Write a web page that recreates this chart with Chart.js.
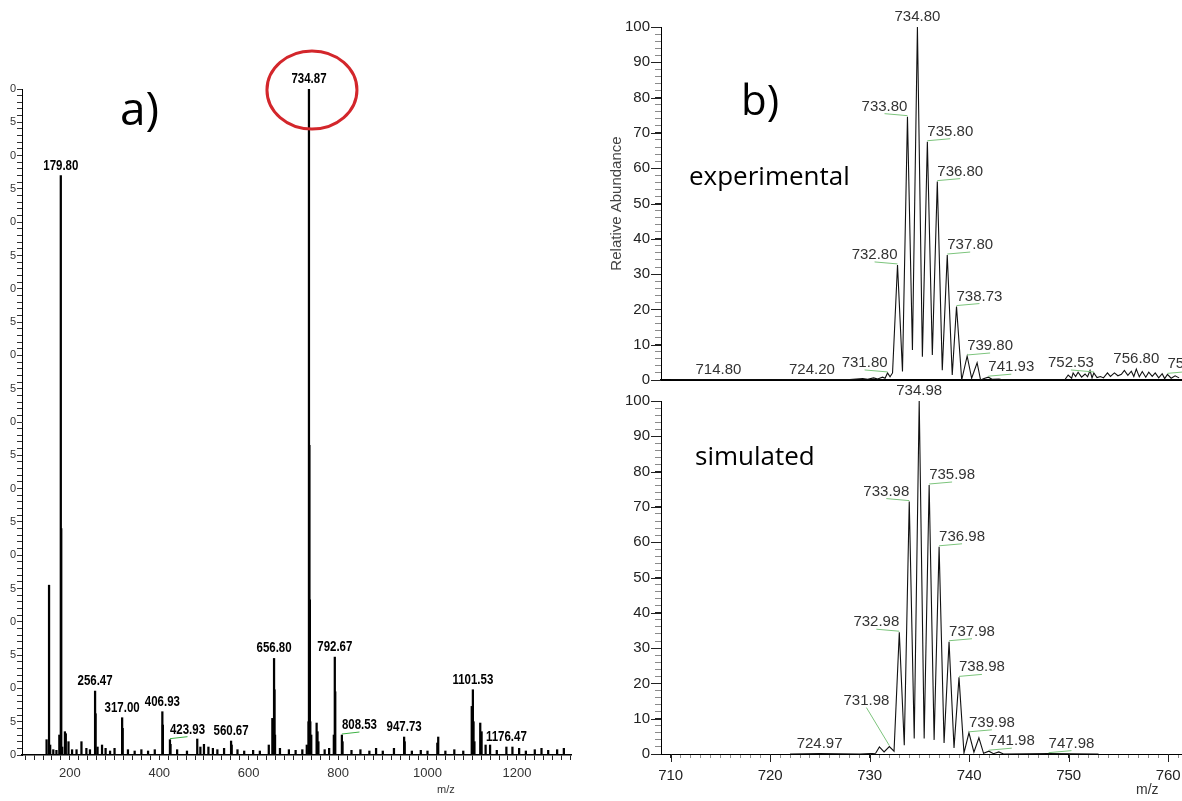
<!DOCTYPE html>
<html>
<head>
<meta charset="utf-8">
<script src="https://cdn.jsdelivr.net/npm/chart.js@4.4.1/dist/chart.umd.min.js"></script>
<style>
html, body { margin: 0; padding: 0; background: #fff; width: 1182px; height: 801px; overflow: hidden; position: relative; }
.box { position: absolute; }
#wrapA { left: 10px; top: 0; width: 580px; height: 801px; overflow: hidden; }
#chartA { position: absolute; left: -30px; top: 0; }
#chartB { left: 590px; top: 0; }
#chartC { left: 590px; top: 385px; }
.note { position: absolute; font-family: "Open Sans", sans-serif; color: #000; line-height: 1; white-space: nowrap; }
.axt { position: absolute; font-family: "Liberation Sans", Arial, sans-serif; color: #333; line-height: 1; white-space: nowrap; }
</style>
</head>
<body>
<div id="wrapA" class="box"><canvas id="chartA" width="610" height="801"></canvas></div>
<canvas id="chartB" class="box" width="640" height="400"></canvas>
<canvas id="chartC" class="box" width="640" height="416"></canvas>

<div class="note" style="left:120px;top:84px;font-size:46px">a)</div>
<div class="note" style="left:741px;top:78px;font-size:42px">b)</div>
<div class="note" style="left:689px;top:162px;font-size:26px">experimental</div>
<div class="note" style="left:695px;top:442px;font-size:26px">simulated</div>
<div class="axt" style="left:437px;top:784px;font-size:11px">m/z</div>
<div class="axt" style="left:1136px;top:782px;font-size:14px">m/z</div>

<script>
// a) полный спектр: m/z и интенсивность
const mzA = [
    148, 153.5, 156, 163, 170, 176.5, 179.8, 180.8, 183, 189,
    191, 197, 205, 215, 226, 237, 245, 256.47, 257.6, 262,
    272, 280, 290, 300, 317.0, 318.2, 330, 345, 360, 375,
    390, 406.93, 408.1, 423.93, 425.2, 440, 462, 485, 492, 500,
    510, 520, 530, 545, 560.67, 562, 575, 590, 610, 625,
    645, 653, 656.8, 657.8, 659, 670, 690, 705, 720, 730,
    733.87, 734.87, 735.87, 736.87, 737.87, 740, 752, 754, 756, 770,
    780, 790.5, 792.67, 793.67, 808.53, 810, 830, 850, 870, 885,
    900, 925, 947.73, 949, 965, 985, 1000, 1022, 1024, 1040,
    1060, 1080, 1099, 1101.53, 1103, 1105, 1118, 1121, 1130, 1140,
    1155, 1176.47, 1190, 1205, 1220, 1240, 1255, 1270, 1290, 1305
];
const intA = [
    2.3, 25.5, 1.5, 0.8, 0.7, 3.0, 87, 34, 1.2, 3.5,
    3.2, 2.0, 0.8, 0.8, 2.0, 1.0, 0.8, 9.6, 6.2, 1.2,
    1.5, 1.0, 0.6, 1.0, 5.6, 4.0, 0.8, 0.6, 0.8, 0.6,
    0.8, 6.5, 4.5, 2.3, 1.6, 0.8, 0.6, 2.4, 1.2, 1.6,
    1.2, 1.0, 0.8, 1.0, 2.1, 1.5, 0.8, 0.6, 0.7, 0.6,
    1.5, 5.5, 14.5, 9.8, 3.0, 1.0, 0.8, 0.7, 0.8, 1.5,
    5.0, 100, 46.5, 23.3, 5.0, 3.0, 4.8, 3.5, 2.0, 0.8,
    1.0, 3.0, 14.7, 9.5, 3.0, 2.0, 0.7, 0.8, 0.6, 1.0,
    0.6, 1.0, 2.7, 2.0, 0.6, 0.7, 0.6, 1.8, 2.7, 0.6,
    0.8, 0.6, 7.3, 9.8, 5.0, 2.0, 4.8, 3.5, 1.5, 1.5,
    0.7, 1.2, 1.2, 1.0, 0.6, 0.8, 1.0, 0.7, 0.8, 1.0
];
const labelsA = [179.80, 256.47, 317.00, 406.93, 423.93, 560.67, 656.80, 734.87, 792.67, 808.53, 947.73, 1101.53, 1176.47];

// b) эксперимент (профиль)
const expMz = [
    710, 714.8, 720, 724.2, 728, 729.3, 729.8, 730.4, 730.8, 731.3,
    731.55, 731.8, 732.05, 732.3, 732.8, 733.3, 733.8, 734.3, 734.8, 735.3,
    735.8, 736.3, 736.8, 737.3, 737.8, 738.3, 738.73, 739.25, 739.8, 740.25,
    740.8, 741.15, 741.5, 741.93, 742.3, 743, 743.5, 749.6, 749.95, 750.3,
    750.45, 750.7, 750.95, 751.3, 751.65, 751.9, 752.15, 752.35, 752.53, 752.85,
    753.2, 753.5, 753.9, 754.2, 754.6, 754.95, 755.3, 755.6, 755.95, 756.3,
    756.55, 756.8, 757.1, 757.4, 757.75, 758.05, 758.4, 758.7, 759.05, 759.4,
    759.65, 759.93, 760.3, 760.7, 761.1
];
const expInt = [
    0, 0.1, 0, 0.1, 0.1, 0.4, 0.2, 0.6, 0.3, 0.8,
    0.5, 2.0, 0.9, 2.0, 32.6, 2.4, 74.6, 8.5, 100, 6.6,
    67.5, 7.1, 56.2, 2.8, 35.4, 1.4, 20.8, 0, 6.8, 0.5,
    4.9, 0, 0.4, 0.8, 0.2, 0.3, 0, 0, 1.4, 0.5,
    2.0, 1.0, 2.2, 0.8, 1.7, 0.9, 2.7, 0.6, 2.0, 0.7,
    1.0, 0.6, 2.0, 1.0, 2.0, 1.2, 1.6, 2.7, 1.3, 2.5,
    1.0, 3.1, 0.9, 2.4, 0.8, 2.2, 1.0, 2.0, 0.6, 1.8,
    0.4, 1.6, 0.5, 1.2, 0.6
];
const expLabels = [714.80, 724.20, 731.80, 732.80, 733.80, 734.80, 735.80, 736.80, 737.80, 738.73, 739.80, 741.93, 752.53, 756.80, 759.93];

// b) расчёт (профиль)
const simMz = [
    722, 724.97, 729, 730.6, 730.98, 731.45, 731.98, 732.45, 732.98, 733.48,
    733.98, 734.48, 734.98, 735.48, 735.98, 736.48, 736.98, 737.48, 737.98, 738.48,
    738.98, 739.48, 739.98, 740.48, 740.98, 741.45, 741.98, 742.45, 742.98, 743.45,
    747.98, 753
];
const simInt = [
    0, 0.1, 0, 0.2, 2.0, 0.6, 2.1, 0.8, 34.5, 2.5,
    71.5, 4.4, 100, 4.4, 76.2, 4.0, 58.7, 3.1, 31.8, 1.7,
    21.7, 0.3, 6.0, 0.5, 4.6, 0.2, 0.8, 0.1, 0.6, 0,
    0.1, 0
];
const simLabels = [724.97, 731.98, 732.98, 733.98, 734.98, 735.98, 736.98, 737.98, 738.98, 739.98, 741.98, 747.98];

Chart.defaults.font.family = '"Liberation Sans", Arial, sans-serif';
Chart.defaults.color = '#222';

function pts(xs, ys) {
    return xs.map((x, i) => ({ x: x, y: ys[i] }));
}

function stepTicks(from, to, step) {
    const t = [];
    for (let v = from; v <= to + 1e-9; v += step) t.push({ value: Math.round(v * 100) / 100 });
    return t;
}

function nearest(chart, v) {
    const data = chart.data.datasets[0].data;
    let p = data[0];
    data.forEach(d => { if (Math.abs(d.x - v) < Math.abs(p.x - v)) p = d; });
    return p;
}

// Подписи пиков
const peakLabels = {
    id: 'peakLabels',
    afterDatasetsDraw(chart, args, opts) {
        const { ctx, scales: { x, y } } = chart;
        const sx = opts.squeeze || 1;
        ctx.save();
        ctx.font = opts.font;
        ctx.textBaseline = 'alphabetic';
        opts.values.forEach(v => {
            const p = nearest(chart, v);
            const px = x.getPixelForValue(p.x);
            const py = y.getPixelForValue(p.y);
            const text = v.toFixed(2);
            const w = ctx.measureText(text).width * sx;
            const place = (opts.place || {})[text] || {};
            const align = place.align || 'center';
            const base = py - opts.gap - (place.lift || 0);
            const left = align === 'left' ? px : align === 'right' ? px - w : px - w / 2;
            ctx.fillStyle = opts.color;
            ctx.save();
            ctx.translate(left, base);
            ctx.scale(sx, 1);
            ctx.fillText(text, 0, 0);
            ctx.restore();
            if (opts.lineColor && align !== 'center') {
                const far = align === 'left' ? px + w / 2 : px - w / 2;
                ctx.strokeStyle = opts.lineColor;
                ctx.lineWidth = 1;
                ctx.beginPath();
                ctx.moveTo(far, base + 3);
                ctx.lineTo(px, py - 1);
                ctx.stroke();
            }
        });
        ctx.restore();
    }
};

// Красный овал вокруг базового пика
const ring = {
    id: 'ring',
    afterDatasetsDraw(chart, args, opts) {
        if (!opts.value) return;
        const { ctx, scales: { x, y } } = chart;
        const p = nearest(chart, opts.value);
        const cx = x.getPixelForValue(p.x) + 3;
        const cy = y.getPixelForValue(p.y) + 1;
        ctx.save();
        ctx.strokeStyle = '#d3262b';
        ctx.lineWidth = 3;
        ctx.beginPath();
        ctx.ellipse(cx, cy, 45, 39, 0, 0, Math.PI * 2);
        ctx.stroke();
        ctx.restore();
    }
};

// Длинные засечки на круглых значениях
const majorTicks = {
    id: 'majorTicks',
    afterDraw(chart, args, opts) {
        const ctx = chart.ctx;
        ctx.save();
        ctx.strokeStyle = '#222';
        ctx.lineWidth = 1;
        (opts.axes || []).forEach(a => {
            const sc = chart.scales[a.id];
            sc.ticks.forEach(t => {
                if (Math.round(t.value) % a.every !== 0) return;
                const p = Math.round(sc.getPixelForValue(t.value)) + 0.5;
                ctx.beginPath();
                if (sc.isHorizontal()) {
                    ctx.moveTo(p, sc.top);
                    ctx.lineTo(p, sc.top + a.len);
                } else {
                    ctx.moveTo(sc.right, p);
                    ctx.lineTo(sc.right - a.len, p);
                }
                ctx.stroke();
            });
        });
        ctx.restore();
    }
};

// a)
new Chart(document.getElementById('chartA'), {
    type: 'bar',
    data: {
        datasets: [{ data: pts(mzA, intA), backgroundColor: '#000', borderWidth: 0, barThickness: 1.6 }]
    },
    options: {
        responsive: false,
        animation: false,
        layout: { padding: { left: 0, right: 19, top: 89, bottom: 0 } },
        plugins: {
            legend: { display: false },
            tooltip: { enabled: false },
            peakLabels: {
                values: labelsA,
                font: 'bold 14px "Liberation Sans", Arial, sans-serif',
                squeeze: 0.82,
                color: '#000',
                gap: 6,
                lineColor: '#3cb043',
                place: { '423.93': { align: 'left' }, '808.53': { align: 'left' } }
            },
            ring: { value: 734.87 }
        },
        scales: {
            x: {
                type: 'linear',
                min: 93,
                max: 1321,
                offset: false,
                afterBuildTicks: s => { s.ticks = stepTicks(100, 1320, 20); },
                afterFit: s => { s.height = 46; },
                grid: { drawOnChartArea: false, drawTicks: true, tickLength: 5, color: '#222', offset: false },
                border: { display: true, color: '#000', width: 1.5 },
                ticks: {
                    autoSkip: false, maxRotation: 0, minRotation: 0, padding: 6,
                    color: '#333', font: { size: 13 },
                    callback: v => v % 200 === 0 ? String(v) : ''
                }
            },
            y: {
                min: 0,
                max: 100,
                afterBuildTicks: s => { s.ticks = stepTicks(0, 100, 1); },
                afterFit: s => { s.width = 42; },
                grid: { drawOnChartArea: false, drawTicks: true, tickLength: 5, color: '#333' },
                border: { display: true, color: '#000', width: 1 },
                ticks: {
                    autoSkip: false, padding: 1, color: '#333', font: { size: 11 },
                    callback: v => v % 5 === 0 ? String(v) : ''
                }
            }
        }
    },
    plugins: [peakLabels, ring]
});

const rightLabelFont = '15px "Liberation Sans", Arial, sans-serif';
const minorColor = c => (c.tick && c.tick.value % 10 === 0) ? '#222' : '#8a8a8a';

function yAxisRight(withTitle) {
    return {
        min: 0,
        max: 100,
        afterBuildTicks: s => { s.ticks = stepTicks(0, 100, 2); },
        afterFit: s => { s.width = 71; },
        grid: { drawOnChartArea: false, drawTicks: true, tickLength: 6, color: minorColor },
        border: { display: true, color: '#000', width: 1 },
        ticks: {
            autoSkip: false, padding: 5, color: '#222', font: { size: 15 },
            callback: v => v % 10 === 0 ? String(v) : ''
        },
        title: {
            display: withTitle,
            text: 'Relative Abundance',
            color: '#444',
            font: { size: 15 },
            padding: { top: 18, bottom: 0 }
        }
    };
}

// b) эксперимент
new Chart(document.getElementById('chartB'), {
    type: 'line',
    data: {
        datasets: [{ data: pts(expMz, expInt), borderColor: '#111', borderWidth: 1.1, pointRadius: 0, tension: 0, fill: false }]
    },
    options: {
        responsive: false,
        animation: false,
        layout: { padding: { left: 0, right: 32, top: 27, bottom: 20 } },
        plugins: {
            legend: { display: false },
            tooltip: { enabled: false },
            peakLabels: {
                values: expLabels,
                font: rightLabelFont,
                color: '#333',
                gap: 6,
                lineColor: '#7cc47c',
                place: {
                    '731.80': { align: 'right' }, '732.80': { align: 'right' }, '733.80': { align: 'right' },
                    '735.80': { align: 'left' }, '736.80': { align: 'left' }, '737.80': { align: 'left' },
                    '738.73': { align: 'left' }, '739.80': { align: 'left' }, '741.93': { align: 'left' },
                    '752.53': { align: 'right' }, '759.93': { align: 'left' }
                }
            },
            majorTicks: { axes: [{ id: 'y', every: 10, len: 10 }] }
        },
        scales: {
            x: {
                type: 'linear',
                min: 709.03,
                max: 763,
                afterFit: s => { s.height = 0; },
                grid: { display: false },
                border: { display: true, color: '#000', width: 2 },
                ticks: { display: false }
            },
            y: yAxisRight(true)
        }
    },
    plugins: [peakLabels, majorTicks]
});

// b) расчёт
new Chart(document.getElementById('chartC'), {
    type: 'line',
    data: {
        datasets: [{ data: pts(simMz, simInt), borderColor: '#111', borderWidth: 1.1, pointRadius: 0, tension: 0, fill: false }]
    },
    options: {
        responsive: false,
        animation: false,
        layout: { padding: { left: 0, right: 32, top: 16, bottom: 0 } },
        plugins: {
            legend: { display: false },
            tooltip: { enabled: false },
            peakLabels: {
                values: simLabels,
                font: rightLabelFont,
                color: '#333',
                gap: 6,
                lineColor: '#7cc47c',
                place: {
                    '731.98': { align: 'right', lift: 36 }, '732.98': { align: 'right' }, '733.98': { align: 'right' },
                    '735.98': { align: 'left' }, '736.98': { align: 'left' }, '737.98': { align: 'left' },
                    '738.98': { align: 'left' }, '739.98': { align: 'left' }, '741.98': { align: 'left' },
                    '747.98': { align: 'left' }
                }
            },
            majorTicks: { axes: [{ id: 'y', every: 10, len: 10 }, { id: 'x', every: 10, len: 8 }] }
        },
        scales: {
            x: {
                type: 'linear',
                min: 709.03,
                max: 763,
                afterBuildTicks: s => { s.ticks = stepTicks(710, 763, 1); },
                afterFit: s => { s.height = 47; },
                grid: { drawOnChartArea: false, drawTicks: true, tickLength: 4, color: minorColor },
                border: { display: true, color: '#000', width: 1 },
                ticks: {
                    autoSkip: false, maxRotation: 0, minRotation: 0, padding: 9,
                    color: '#222', font: { size: 15 },
                    callback: v => v % 10 === 0 ? String(v) : ''
                }
            },
            y: yAxisRight(false)
        }
    },
    plugins: [peakLabels, majorTicks]
});
</script>
</body>
</html>
